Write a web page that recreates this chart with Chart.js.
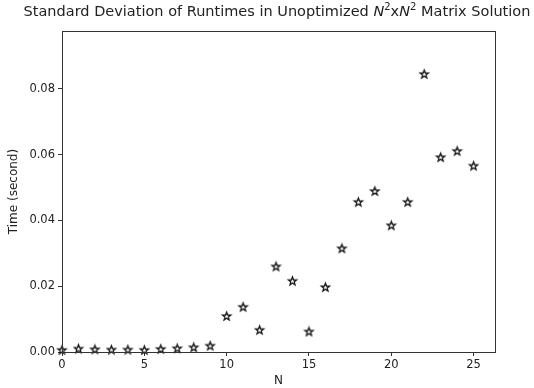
<!DOCTYPE html>
<html>
<head>
<meta charset="utf-8">
<script src="https://cdn.jsdelivr.net/npm/chart.js@4"></script>
<style>
  html, body { margin: 0; padding: 0; background: #fff; }
  #wrap { position: relative; width: 534px; height: 388px; }
  #title {
    position: absolute; left: 0; top: 3px; width: 554px; text-align: center;
    font-family: "DejaVu Sans", sans-serif; font-size: 14.5px; color: #222;
    white-space: nowrap;
  }
  #title sup { font-size: 10px; vertical-align: 6px; line-height: 0; }
</style>
</head>
<body>
<div id="wrap">
  <div id="title">Standard Deviation of Runtimes in Unoptimized <i>N</i><sup>2</sup>x<i>N</i><sup>2</sup> Matrix Solution</div>
  <canvas id="chart" width="534" height="388"></canvas>
</div>
<script>
const sizesN = [0, 1, 2, 3, 4, 5, 6, 7, 8, 9, 10, 11, 12, 13, 14, 15, 16, 17, 18, 19, 20, 21, 22, 23, 24, 25];
const stdDevTimes = [0.0005, 0.0009, 0.0007, 0.0006, 0.0006, 0.0005, 0.0008, 0.0010, 0.0013, 0.0018,
                     0.0108, 0.0136, 0.0066, 0.0259, 0.0215, 0.0061, 0.0196, 0.0314, 0.0455, 0.0488,
                     0.0384, 0.0455, 0.0844, 0.0591, 0.0610, 0.0565];

// open five-point star like matplotlib's '*' marker
function makeStar(r) {
    const s = Math.ceil(r * 2 + 4);
    const c = document.createElement('canvas');
    c.width = s; c.height = s;
    const ctx = c.getContext('2d');
    ctx.translate(s / 2, s / 2);
    ctx.beginPath();
    for (let i = 0; i < 10; i++) {
        const rad = i % 2 === 0 ? r : r * 0.42;
        const a = -Math.PI / 2 + i * Math.PI / 5;
        const px = rad * Math.cos(a), py = rad * Math.sin(a);
        if (i === 0) ctx.moveTo(px, py); else ctx.lineTo(px, py);
    }
    ctx.closePath();
    ctx.fillStyle = '#fff';
    ctx.fill();
    ctx.lineWidth = 1.3;
    ctx.strokeStyle = '#111';
    ctx.stroke();
    return c;
}

const boxPlugin = {
    id: 'box',
    afterDraw(chart) {
        const a = chart.chartArea, ctx = chart.ctx;
        ctx.save();
        ctx.strokeStyle = '#333';
        ctx.lineWidth = 1;
        ctx.strokeRect(a.left + 0.5, a.top + 0.5, a.right - a.left, a.bottom - a.top);
        ctx.restore();
    }
};

const tickFont = { family: 'DejaVu Sans', size: 11.5 };

new Chart(document.getElementById('chart').getContext('2d'), {
    type: 'scatter',
    data: {
        datasets: [{
            data: sizesN.map((n, i) => ({ x: n, y: stdDevTimes[i] })),
            pointStyle: makeStar(4.3),
            clip: false
        }]
    },
    options: {
        responsive: false,
        animation: false,
        layout: { padding: { top: 31, right: 39, left: 0, bottom: 0 } },
        plugins: { legend: { display: false }, tooltip: { enabled: false } },
        scales: {
            x: {
                type: 'linear', min: 0, max: 26.3,
                afterFit: s => { s.height = 36; },
                ticks: { stepSize: 5, includeBounds: false, color: '#222', font: tickFont, padding: 2, maxRotation: 0 },
                grid: { drawOnChartArea: false, tickLength: 4, color: '#333' },
                border: { color: '#333' },
                title: { display: true, text: 'N', color: '#222', font: { family: 'DejaVu Sans', size: 12 }, padding: 0 }
            },
            y: {
                min: 0, max: 0.0976,
                afterFit: s => { s.width = 62; },
                ticks: { stepSize: 0.02, includeBounds: false, color: '#222', font: tickFont, padding: 3,
                         callback: v => v.toFixed(2) },
                grid: { drawOnChartArea: false, tickLength: 4, color: '#333' },
                border: { color: '#333' },
                title: { display: true, text: 'Time (second)', color: '#222', font: { family: 'DejaVu Sans', size: 12 },
                         padding: { top: 7, bottom: 0 } }
            }
        }
    },
    plugins: [boxPlugin]
});
</script>
</body>
</html>
